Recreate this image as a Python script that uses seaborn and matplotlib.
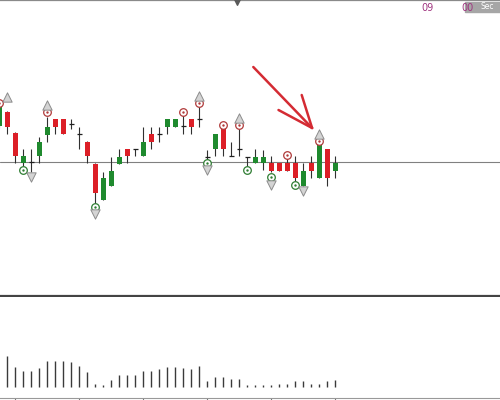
import numpy as np
import pandas as pd
import seaborn as sns
import matplotlib.pyplot as plt

# candle data (index, open/high/low/close)
opens = [1.3174, 1.3188, 1.3167, 1.3137, 1.3138, 1.3144, 1.3165, 1.3181, 1.3181, 1.3176,
         1.3166, 1.3158, 1.3136, 1.3100, 1.3114, 1.3136, 1.3151, 1.3151, 1.3144, 1.3166,
         1.3166, 1.3173, 1.3173, 1.3174, 1.3181, 1.3181, 1.3143, 1.3151, 1.3173, 1.3144,
         1.3151, 1.3143, 1.3137, 1.3137, 1.3137, 1.3137, 1.3137, 1.3137, 1.3114, 1.3137,
         1.3122, 1.3151, 1.3129]
highs = [1.3198, 1.3189, 1.3168, 1.3151, 1.3151, 1.3163, 1.3183, 1.3181, 1.3181, 1.3181,
         1.3173, 1.3159, 1.3137, 1.3128, 1.3143, 1.3151, 1.3151, 1.3151, 1.3173, 1.3173,
         1.3173, 1.3181, 1.3181, 1.3186, 1.3181, 1.3194, 1.3150, 1.3166, 1.3175, 1.3158,
         1.3173, 1.3143, 1.3151, 1.3150, 1.3144, 1.3137, 1.3142, 1.3144, 1.3137, 1.3144,
         1.3160, 1.3151, 1.3144]
lows = [1.3172, 1.3166, 1.3137, 1.3134, 1.3128, 1.3137, 1.3158, 1.3166, 1.3166, 1.3171,
        1.3151, 1.3137, 1.3096, 1.3100, 1.3114, 1.3136, 1.3137, 1.3144, 1.3144, 1.3151,
        1.3158, 1.3166, 1.3173, 1.3166, 1.3166, 1.3173, 1.3140, 1.3144, 1.3144, 1.3144,
        1.3144, 1.3134, 1.3137, 1.3130, 1.3128, 1.3129, 1.3129, 1.3119, 1.3114, 1.3122,
        1.3122, 1.3114, 1.3122]
closes = [1.3195, 1.3173, 1.3144, 1.3144, 1.3138, 1.3158, 1.3173, 1.3173, 1.3166, 1.3176,
          1.3166, 1.3144, 1.3107, 1.3122, 1.3129, 1.3143, 1.3144, 1.3151, 1.3158, 1.3158,
          1.3166, 1.3181, 1.3181, 1.3174, 1.3173, 1.3181, 1.3143, 1.3166, 1.3151, 1.3144,
          1.3151, 1.3143, 1.3143, 1.3143, 1.3129, 1.3129, 1.3129, 1.3122, 1.3129, 1.3129,
          1.3158, 1.3122, 1.3137]
volumes = [0, 3070, 1930, 1600, 1600, 1870, 2600, 2600, 2530, 2470,
           2070, 1470, 270, 200, 670, 1130, 1200, 1200, 1530, 1600,
           1730, 1930, 1930, 1870, 1730, 2070, 600, 930, 1000, 730,
           750, 200, 200, 150, 200, 250, 250, 600, 600, 250,
           300, 600, 700]

# fractal markers
hi_circle_idx = [0, 6, 23, 25, 28, 30, 36, 40]
hi_circle_px = [1.3197, 1.3188, 1.3188, 1.3197, 1.3175, 1.3175, 1.3145, 1.3159]
up_arrow_idx = [1, 6, 25, 30, 40]
up_arrow_px = [1.3203, 1.3195, 1.3204, 1.3182, 1.3166]
lo_circle_idx = [3, 12, 26, 31, 34, 37]
lo_circle_px = [1.3130, 1.3093, 1.3137, 1.3130, 1.3123, 1.3115]
dn_arrow_idx = [4, 12, 26, 34, 38]
dn_arrow_px = [1.3123, 1.3086, 1.3130, 1.3115, 1.3109]
level = 1.3138
vol_ticks = [2, 10, 18, 26, 34, 42]

GREEN = '#1f8a2e'
RED = '#dc1f27'

df = pd.DataFrame({'i': np.arange(len(opens)), 'open': opens, 'high': highs,
                   'low': lows, 'close': closes, 'volume': volumes})

sns.set_style('white')
fig = plt.figure(figsize=(5, 4), dpi=100)
ax = fig.add_axes([0, 0.26, 1, 0.74])
axv = fig.add_axes([0, 0.005, 1, 0.2525])

xlim = (0.0875, 62.5875)

# price panel
ax.axhline(level, color='#808080', lw=0.8, zorder=1)
ax.vlines(df['i'], df['low'], df['high'], color='#303030', lw=0.8, zorder=2)
doji = df[df['open'] == df['close']]
body = df[df['open'] != df['close']]
colors = [GREEN if c > o else RED for o, c in zip(body['open'], body['close'])]
ax.bar(body['i'], body['close'] - body['open'], bottom=body['open'], width=0.62,
       color=colors, edgecolor='none', zorder=3)
ax.hlines(doji['open'], doji['i'] - 0.32, doji['i'] + 0.32, color='#202020', lw=0.9, zorder=3)

sns.scatterplot(x=hi_circle_idx, y=hi_circle_px, ax=ax, marker='o', s=30,
                facecolor='white', edgecolor='#b03a3a', linewidth=0.9, zorder=4)
sns.scatterplot(x=hi_circle_idx, y=hi_circle_px, ax=ax, marker='o', s=3,
                color='#b03a3a', linewidth=0, zorder=5)
sns.scatterplot(x=lo_circle_idx, y=lo_circle_px, ax=ax, marker='o', s=30,
                facecolor='white', edgecolor='#2e7d32', linewidth=0.9, zorder=4)
sns.scatterplot(x=lo_circle_idx, y=lo_circle_px, ax=ax, marker='o', s=3,
                color='#2e7d32', linewidth=0, zorder=5)
sns.scatterplot(x=up_arrow_idx, y=up_arrow_px, ax=ax, marker='^', s=45,
                facecolor='#d4d4d4', edgecolor='#8c8c8c', linewidth=0.7, zorder=4)
sns.scatterplot(x=dn_arrow_idx, y=dn_arrow_px, ax=ax, marker='v', s=45,
                facecolor='#d4d4d4', edgecolor='#8c8c8c', linewidth=0.7, zorder=4)

# hand-drawn red arrow
tip = (39.1, 1.3172)
for start in [(31.75, 1.3233), (37.8, 1.3205), (34.9, 1.3190)]:
    ax.plot([start[0], tip[0]], [start[1], tip[1]], color='#d42b33', lw=1.8,
            solid_capstyle='round', zorder=6)

ax.set_xlim(*xlim)
ax.set_ylim(1.3004, 1.3300)
ax.set_xticks([])
ax.set_yticks([])
for side in ['left', 'right']:
    ax.spines[side].set_visible(False)
ax.spines['top'].set_color('#8a8a8a')
ax.spines['top'].set_linewidth(0.9)
ax.spines['bottom'].set_color('#444444')
ax.spines['bottom'].set_linewidth(1.6)
ax.scatter([0.474], [0.995], transform=ax.transAxes, marker='v', s=30,
           color='#5a5a5a', clip_on=False, zorder=7)

# volume panel
axv.vlines(df['i'], 0, df['volume'], color='#3a3a3a', lw=1.0)
axv.set_xlim(*xlim)
axv.set_ylim(-1130, 8970)
axv.set_xticks(vol_ticks)
axv.set_xticklabels([])
axv.set_yticks([])
axv.tick_params(axis='x', direction='out', length=3, width=0.8, color='#777777',
                bottom=True)
for side in ['left', 'right', 'top']:
    axv.spines[side].set_visible(False)
axv.spines['bottom'].set_color('#999999')
axv.spines['bottom'].set_linewidth(0.8)

# top right labels
fig.patches.append(plt.Rectangle((0.93, 0.97), 0.07, 0.025, transform=fig.transFigure,
                                 color='#a6a6a6', zorder=1))
fig.text(0.856, 0.981, '09', color='#a03580', fontsize=7, ha='center', va='center')
fig.text(0.935, 0.981, '00', color='#a03580', fontsize=7, ha='center', va='center')
fig.text(0.975, 0.983, 'Sec', color='white', fontsize=5.5, ha='center', va='center')

fig.savefig('out.png', dpi=100)
